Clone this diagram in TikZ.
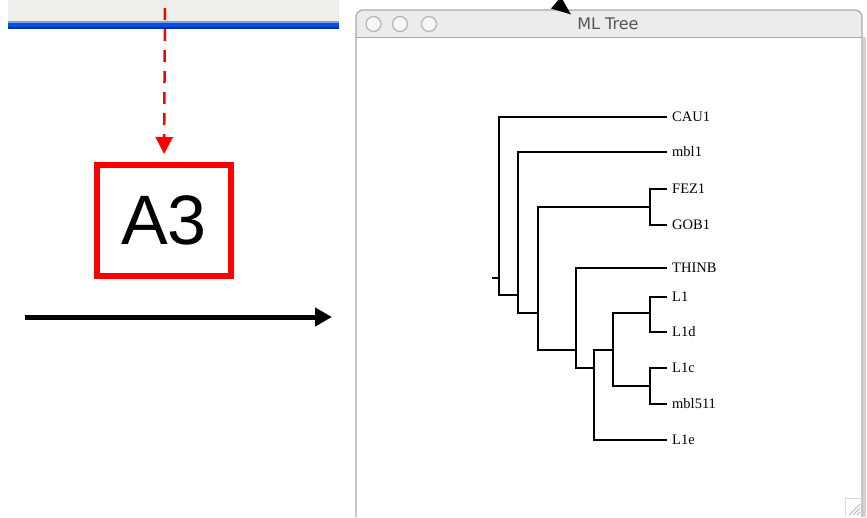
\documentclass[tikz,border=0pt]{standalone}
\usepackage{fontspec}
\setmainfont{Liberation Serif}
\newfontfamily\arialfont{Liberation Sans}
\newfontfamily\uifont{DejaVu Sans}
\usetikzlibrary{arrows.meta}
\definecolor{panelgray}{HTML}{EFEEEA}
\definecolor{bluelight}{HTML}{7FA3DA}
\definecolor{bluemid}{HTML}{0050E0}
\definecolor{bluedark}{HTML}{0030A8}
\definecolor{titlegray}{HTML}{ECECEC}
\definecolor{framegray}{HTML}{A8A8A8}
\definecolor{texgray}{HTML}{555555}
\tikzset{
  leaf/.style={anchor=west, inner xsep=5pt, inner ysep=1pt, font=\fontsize{14.5}{16}\selectfont},
  branch/.style={line width=1.6pt, black},
  winbtn/.style={circle, minimum size=15pt, inner sep=0pt, fill=gray!6, draw=gray!55, line width=1.3pt},
  redbox/.style={draw=red, line width=6pt, minimum width=134pt, minimum height=111pt, inner sep=0pt, font=\arialfont\fontsize{70}{70}\selectfont},
}
\begin{document}
\begin{tikzpicture}[x=1pt,y=-1pt]
\useasboundingbox (0,0) rectangle (867,517);
% left top panel with blue bar
\fill[panelgray] (8,0) rectangle (339,21);
\fill[bluelight] (8,21) rectangle (339,23);
\fill[bluemid] (8,23) rectangle (339,27);
\fill[bluedark] (8,27) rectangle (339,29);
% A3 box and arrows
\node[redbox] (a3) at (164,220.5) {A3};
\coordinate (redtop) at (165,0);
\draw[red, line width=2.5pt, dash pattern=on 12pt off 9pt, dash phase=13pt, shorten >=8pt,
  -{Triangle[length=17pt,width=17pt]}] (redtop) -- (a3.north);
\coordinate (blkstart) at (25,317);
\coordinate (blkend) at (332,317);
\draw[line width=5pt, -{Triangle[length=17pt,width=18pt]}] (blkstart) -- (blkend);
% window
\fill[white] (356,517) -- (356,20) -- (862,20) -- (862,517) -- cycle;
\fill[titlegray] (356,37) {[rounded corners=7pt] -- (356,10) -- (862,10)} -- (862,37) -- cycle;
\draw[framegray, line width=1.2pt] (356,517) {[rounded corners=7pt] -- (356,10) -- (862,10)} -- (862,517);
\draw[framegray, line width=1pt] (356,37) -- (862,37);
\draw[gray!35, line width=3pt] (864,37) -- (864,517);
\node[winbtn] (b1) at (373.5,24) {};
\node[winbtn] (b2) at (400,24) {};
\node[winbtn] (b3) at (429,24) {};
\node[font=\uifont\fontsize{16}{18}\selectfont, text=texgray] (title) at (608,24) {ML Tree};
% top arrowhead
\fill[black] (551,8.5) -- (561,-3) -- (571,14.5) -- cycle;
% resize grip
\draw[gray!30, line width=0.8pt] (845,517) -- (845,498) -- (862,498);
\draw[gray!55, line width=1pt] (849,515) -- (860,504) (853,515) -- (860,508) (857,515) -- (860,512);
% tree leaves
\node[leaf] (cau) at (667,117) {CAU1};
\node[leaf] (mbl1) at (667,152) {mbl1};
\node[leaf] (fez) at (667,189) {FEZ1};
\node[leaf] (gob) at (667,225) {GOB1};
\node[leaf] (thinb) at (667,268) {THINB};
\node[leaf] (l1) at (667,297) {L1};
\node[leaf] (l1d) at (667,332) {L1d};
\node[leaf] (l1c) at (667,368) {L1c};
\node[leaf] (mbl511) at (667,404) {mbl511};
\node[leaf] (l1e) at (667,440) {L1e};
% internal nodes
\coordinate (stub) at (492,278);
\coordinate (root) at (499,278);
\coordinate (n2) at (518,295);
\coordinate (n3) at (538,313);
\coordinate (nfg) at (650,207);
\coordinate (n4) at (576,350);
\coordinate (n5) at (594,368);
\coordinate (n6) at (613,350);
\coordinate (nl1) at (650,313);
\coordinate (nl1c) at (650,386);
\draw[branch] (stub) -- (root);
\draw[branch] (root) |- (cau.west);
\draw[branch] (root) |- (n2);
\draw[branch] (n2) |- (mbl1.west);
\draw[branch] (n2) |- (n3);
\draw[branch] (n3) |- (nfg);
\draw[branch] (n3) |- (n4);
\draw[branch] (nfg) |- (fez.west);
\draw[branch] (nfg) |- (gob.west);
\draw[branch] (n4) |- (thinb.west);
\draw[branch] (n4) |- (n5);
\draw[branch] (n5) |- (n6);
\draw[branch] (n5) |- (l1e.west);
\draw[branch] (n6) |- (nl1);
\draw[branch] (n6) |- (nl1c);
\draw[branch] (nl1) |- (l1.west);
\draw[branch] (nl1) |- (l1d.west);
\draw[branch] (nl1c) |- (l1c.west);
\draw[branch] (nl1c) |- (mbl511.west);
\end{tikzpicture}
\end{document}
